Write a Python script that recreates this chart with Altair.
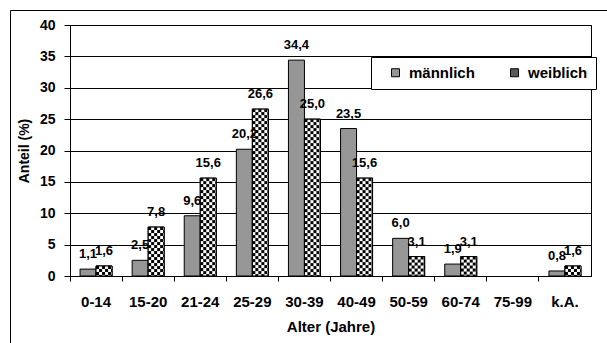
import altair as alt
import pandas as pd
from urllib.parse import quote

categories = ["0-14", "15-20", "21-24", "25-29", "30-39", "40-49", "50-59", "60-74", "75-99", "k.A."]
maennlich = [1.1, 2.5, 9.6, 20.2, 34.4, 23.5, 6.0, 1.9, None, 0.8]
weiblich = [1.6, 7.8, 15.6, 26.6, 25.0, 15.6, 3.1, 3.1, None, 1.6]
series = ["männlich", "weiblich"]
y_ticks = [0, 5, 10, 15, 20, 25, 30, 35, 40]

rows = []
for c, m, w in zip(categories, maennlich, weiblich):
    rows.append({"Alter": c, "Geschlecht": series[0], "Anteil": m})
    rows.append({"Alter": c, "Geschlecht": series[1], "Anteil": w})
df = pd.DataFrame(rows)

FONT = "Liberation Sans"
W, H = 521, 251

checker_svg = (
    "<svg xmlns='http://www.w3.org/2000/svg' width='16' height='252'>"
    "<defs><pattern id='c' width='6' height='6' patternUnits='userSpaceOnUse'>"
    "<rect width='6' height='6' fill='white'/>"
    "<rect width='3' height='3' fill='black'/>"
    "<rect x='3' y='3' width='3' height='3' fill='black'/>"
    "</pattern></defs><rect width='16' height='252' fill='url(#c)'/></svg>"
)
checker_uri = "data:image/svg+xml;charset=utf-8," + quote(checker_svg)

x_enc = alt.X(
    "Alter:N",
    sort=categories,
    scale=alt.Scale(domain=categories, paddingInner=0, paddingOuter=0),
    axis=alt.Axis(
        title="Alter (Jahre)",
        labelAngle=0,
        bandPosition=0,
        tickSize=5,
        labelPadding=13,
        labelFontSize=15,
        titleFontSize=15,
        titleBaseline="alphabetic",
        titleY=55,
        grid=False,
    ),
)
xo_enc = alt.XOffset(
    "Geschlecht:N",
    sort=series,
    scale=alt.Scale(domain=series, paddingInner=0, paddingOuter=0.628),
)
y_enc = alt.Y(
    "Anteil:Q",
    scale=alt.Scale(domain=[0, 40], nice=False),
    axis=alt.Axis(
        title="Anteil (%)",
        values=y_ticks,
        tickSize=6,
        labelPadding=9,
        labelFontSize=14,
        titleFontSize=14,
        titleBaseline="alphabetic",
        titleX=-42,
        grid=True,
    ),
)

base = alt.Chart(df)

bars = base.mark_bar(stroke="black", strokeWidth=1).encode(
    x=x_enc,
    xOffset=xo_enc,
    y=y_enc,
    color=alt.Color(
        "Geschlecht:N",
        scale=alt.Scale(domain=series, range=["#969696", "#5a5a5a"]),
        legend=alt.Legend(
            title=None,
            orient="none",
            legendX=301,
            legendY=32,
            direction="horizontal",
            strokeColor="black",
            fillColor="white",
            padding=8,
            symbolType="square",
            symbolSize=64,
            symbolStrokeColor="black",
            symbolStrokeWidth=1,
            symbolOffset=9,
            labelOffset=6,
            columnPadding=23,
            labelFont=FONT,
            labelFontSize=15,
            labelFontWeight="bold",
            labelColor="black",
        ),
    ),
)

female = base.transform_filter(alt.datum.Geschlecht == "weiblich")

images = female.mark_image(
    width=16, height=252, align="center", baseline="top", aspect=False, clip=True
).encode(x=x_enc, xOffset=xo_enc, y=y_enc, url=alt.value(checker_uri))

outlines = female.mark_bar(fillOpacity=0, stroke="black", strokeWidth=1).encode(
    x=x_enc, xOffset=xo_enc, y=y_enc
)

labels = (
    base.transform_filter("isValid(datum.Anteil)")
    .transform_calculate(label="replace(format(datum.Anteil, '.1f'), '.', ',')")
    .mark_text(
        baseline="alphabetic",
        dy=-11,
        font=FONT,
        fontSize=13,
        fontWeight="bold",
        color="black",
    )
    .encode(x=x_enc, xOffset=xo_enc, y=y_enc, text="label:N")
)

frame = (
    alt.Chart(pd.DataFrame({"k": [0]}))
    .mark_rect(fillOpacity=0, stroke="black", strokeWidth=1, clip=False)
    .encode(
        x=alt.value(-59.5),
        x2=alt.value(700),
        y=alt.value(-14.5),
        y2=alt.value(500),
    )
)

chart = (
    alt.layer(bars, images, outlines, labels, frame)
    .properties(
        width=W,
        height=H,
        padding={"left": 70, "top": 25, "right": 16, "bottom": 67},
        autosize=alt.AutoSizeParams(type="none"),
        background="white",
    )
    .configure_view(stroke="black", strokeWidth=1)
    .configure_axis(
        labelFont=FONT,
        titleFont=FONT,
        labelFontWeight="bold",
        titleFontWeight="bold",
        labelColor="black",
        titleColor="black",
        domainColor="black",
        tickColor="black",
        gridColor="black",
        gridOpacity=1,
        domainWidth=1,
        tickWidth=1,
        gridWidth=1,
    )
)

chart.save("out.html", embed_options={"renderer": "svg", "actions": False})
